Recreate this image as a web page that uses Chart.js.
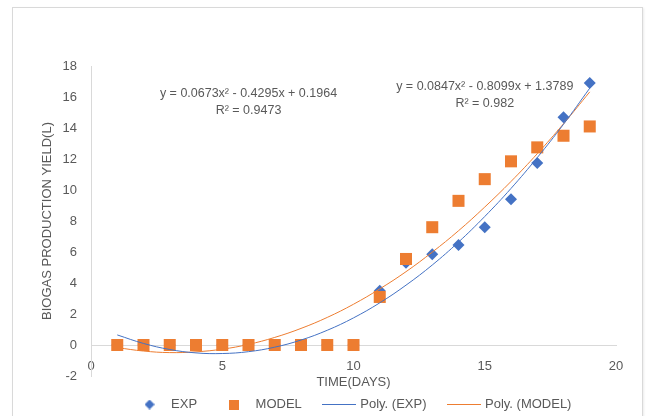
<!DOCTYPE html>
<html>
<head>
<meta charset="utf-8">
<script src="https://cdn.jsdelivr.net/npm/chart.js@4"></script>
<style>
  html, body { margin: 0; padding: 0; background: #fff; }
  #wrap { position: relative; width: 649px; height: 416px; overflow: hidden; }
  #frame { position: absolute; left: 12px; top: 7px; width: 629px; height: 440px; border: 1px solid #d9d9d9; box-shadow: 1px 1px 2px rgba(0, 0, 0, 0.08); }
  #biogasChart { position: absolute; left: 0; top: 0; }
</style>
</head>
<body>
<div id="wrap">
  <div id="frame"></div>
  <canvas id="biogasChart" width="649" height="416"></canvas>
</div>
<script>
// Data
const days = [1, 2, 3, 4, 5, 6, 7, 8, 9, 10, 11, 12, 13, 14, 15, 16, 17, 18, 19];
const expYield = [0, 0, 0, 0, 0, 0, 0, 0, 0, 0, 3.5, 5.3, 5.85, 6.45, 7.6, 9.4, 11.75, 14.7, 16.9];
const modelYield = [0, 0, 0, 0, 0, 0, 0, 0, 0, 0, 3.1, 5.55, 7.6, 9.3, 10.7, 11.85, 12.75, 13.5, 14.1];

// Trendline values at each day (as plotted from the printed equations)
const expTrend = [0.65, 0.10, -0.29, -0.51, -0.55, -0.43, -0.14, 0.32, 0.95, 1.75, 2.72, 3.86, 5.16, 6.64, 8.29, 10.10, 12.09, 14.24, 16.57];
const modelTrend = [-0.17, -0.39, -0.49, -0.44, -0.27, 0.04, 0.49, 1.07, 1.78, 2.63, 3.62, 4.73, 5.99, 7.37, 8.90, 10.55, 12.34, 14.27, 16.33];

const expEquation = ['y = 0.0847x\u00B2 - 0.8099x + 1.3789', 'R\u00B2 = 0.982'];
const modelEquation = ['y = 0.0673x\u00B2 - 0.4295x + 0.1964', 'R\u00B2 = 0.9473'];

const seriesLabels = ['EXP', 'MODEL', 'Poly. (EXP)', 'Poly. (MODEL)'];

const BLUE = '#4472C4';
const ORANGE = '#ED7D31';
const TEXT = '#595959';
const FONT = '"Liberation Sans", Arial, sans-serif';

function toPoints(values) {
  return days.map((d, i) => ({ x: d, y: values[i] }));
}

// small canvases used as legend markers
function makeMarker(w, h, draw) {
  const c = document.createElement('canvas');
  c.width = w;
  c.height = h;
  draw(c.getContext('2d'));
  return c;
}

const legendMarkers = [
  makeMarker(10, 10, g => {
    g.fillStyle = BLUE;
    g.beginPath();
    g.moveTo(5, 0); g.lineTo(10, 5); g.lineTo(5, 10); g.lineTo(0, 5);
    g.closePath();
    g.fill();
  }),
  makeMarker(10, 10, g => { g.fillStyle = ORANGE; g.fillRect(0, 0, 10, 10); }),
  makeMarker(34, 3, g => { g.fillStyle = BLUE; g.fillRect(0, 1, 34, 1); }),
  makeMarker(34, 3, g => { g.fillStyle = ORANGE; g.fillRect(0, 1, 34, 1); })
];

// Excel centres the legend a bit right of the canvas middle
const legendShift = {
  id: 'legendShift',
  afterLayout(chart) {
    chart.legend.left += 45;
    chart.legend.right += 45;
  }
};

// trendline equations
const equationLabels = {
  id: 'equationLabels',
  afterDatasetsDraw(chart) {
    const { ctx, scales: { x, y } } = chart;
    const blocks = [
      { lines: modelEquation, at: [6, 16.2] },
      { lines: expEquation, at: [15, 16.7] }
    ];
    ctx.save();
    ctx.font = '12.5px ' + FONT;
    ctx.fillStyle = TEXT;
    ctx.textAlign = 'center';
    ctx.textBaseline = 'middle';
    blocks.forEach(b => {
      const px = x.getPixelForValue(b.at[0]);
      const py = y.getPixelForValue(b.at[1]);
      b.lines.forEach((line, i) => ctx.fillText(line, px, py + i * 17));
    });
    ctx.restore();
  }
};

const ctx = document.getElementById('biogasChart');

new Chart(ctx, {
  type: 'scatter',
  data: {
    datasets: [{
      label: seriesLabels[0],
      data: toPoints(expYield),
      pointStyle: 'rectRot',
      pointRadius: 6,
      backgroundColor: BLUE,
      borderColor: BLUE,
      borderWidth: 0,
      order: 3
    }, {
      label: seriesLabels[1],
      data: toPoints(modelYield),
      pointStyle: 'rect',
      pointRadius: 8.5,
      backgroundColor: ORANGE,
      borderColor: ORANGE,
      borderWidth: 0,
      order: 2
    }, {
      label: seriesLabels[2],
      type: 'line',
      data: toPoints(expTrend),
      borderColor: BLUE,
      borderWidth: 1,
      pointRadius: 0,
      tension: 0.4,
      fill: false,
      order: 0
    }, {
      label: seriesLabels[3],
      type: 'line',
      data: toPoints(modelTrend),
      borderColor: ORANGE,
      borderWidth: 1,
      pointRadius: 0,
      tension: 0.4,
      fill: false,
      order: 1
    }]
  },
  options: {
    responsive: false,
    animation: false,
    layout: {
      padding: { left: 0, right: 33, top: 66, bottom: -5 }
    },
    scales: {
      x: {
        type: 'linear',
        position: { y: 0 },
        min: 0,
        max: 20,
        ticks: { stepSize: 5, padding: 14, color: TEXT, font: { family: FONT, size: 13 } },
        grid: { display: false, drawTicks: false },
        border: { color: '#d9d9d9' },
        title: {
          display: true,
          text: 'TIME(DAYS)',
          color: TEXT,
          font: { family: FONT, size: 13 },
          padding: 0
        },
        afterFit: scale => { scale.height = 45; }
      },
      y: {
        min: -2,
        max: 18,
        ticks: { stepSize: 2, padding: 14, color: TEXT, font: { family: FONT, size: 13 } },
        grid: { display: false, drawTicks: false },
        border: { color: '#d9d9d9' },
        title: {
          display: true,
          text: 'BIOGAS PRODUCTION YIELD(L)',
          color: TEXT,
          font: { family: FONT, size: 13 },
          padding: { top: 40, bottom: 0 }
        },
        afterFit: scale => { scale.width = 91; }
      }
    },
    plugins: {
      legend: {
        position: 'bottom',
        labels: {
          usePointStyle: true,
          pointStyleWidth: 30,
          padding: 22,
          color: TEXT,
          font: { family: FONT, size: 13 },
          generateLabels: chart => chart.data.datasets.map((ds, i) => ({
            text: ds.label,
            pointStyle: legendMarkers[i],
            fillStyle: ds.borderColor,
            strokeStyle: ds.borderColor,
            lineWidth: 0,
            fontColor: TEXT,
            hidden: false,
            datasetIndex: i
          }))
        }
      },
      tooltip: { enabled: false }
    }
  },
  plugins: [legendShift, equationLabels]
});
</script>
</body>
</html>
